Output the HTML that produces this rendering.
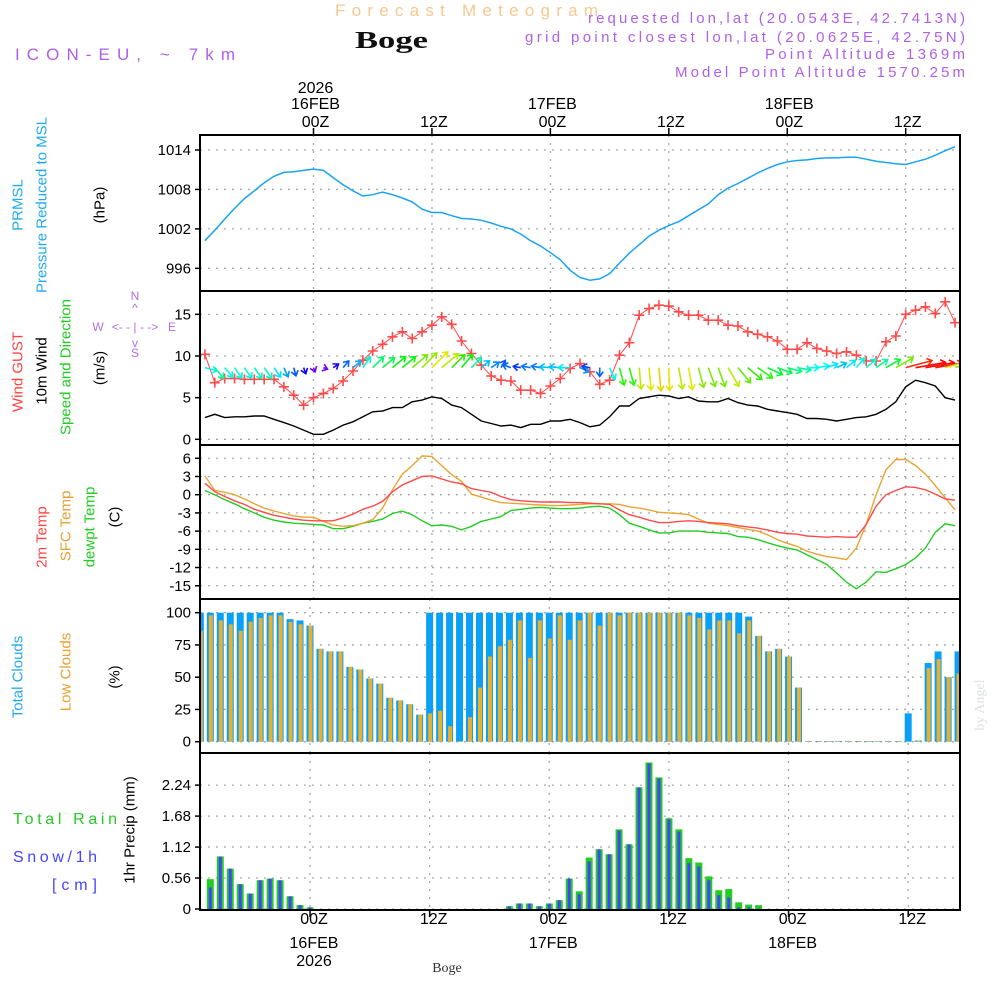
<!DOCTYPE html>
<html><head><meta charset="utf-8"><title>Forecast Meteogram - Boge</title>
<style>
html,body{margin:0;padding:0;background:#fff;}
svg{display:block;font-family:"Liberation Sans",sans-serif;}
</style></head>
<body>
<svg id="chart" width="1000" height="1000" viewBox="0 0 1000 1000" xmlns="http://www.w3.org/2000/svg">
<rect x="0" y="0" width="1000" height="1000" fill="#fff"/>
<!-- header -->
<text x="335" y="16" font-size="17" fill="#f7c890" textLength="263" lengthAdjust="spacing">Forecast Meteogram</text>
<text x="355" y="48" font-size="24" font-weight="bold" font-family="Liberation Serif, serif" fill="#111" textLength="73" lengthAdjust="spacingAndGlyphs">Boge</text>
<text x="15" y="60" font-size="17" fill="#b060e8" textLength="220" lengthAdjust="spacing">ICON-EU, ~ 7km</text>
<text x="588" y="23" font-size="15" fill="#b060e8" textLength="377" lengthAdjust="spacing">requested lon,lat (20.0543E, 42.7413N)</text>
<text x="525" y="42" font-size="15" fill="#b060e8" textLength="440" lengthAdjust="spacing">grid point closest lon,lat (20.0625E, 42.75N)</text>
<text x="765" y="59" font-size="15" fill="#b060e8" textLength="200" lengthAdjust="spacing">Point Altitude 1369m</text>
<text x="675" y="77" font-size="15" fill="#b060e8" textLength="290" lengthAdjust="spacing">Model Point Altitude 1570.25m</text>

<!-- left titles -->
<g font-size="15" text-anchor="middle" dominant-baseline="central">
<text transform="translate(18,205) rotate(-90)" fill="#22aaee">PRMSL</text>
<text transform="translate(42,205) rotate(-90)" fill="#22aaee">Pressure Reduced to MSL</text>
<text transform="translate(100,205) rotate(-90)" fill="#000">(hPa)</text>
<text transform="translate(18,372) rotate(-90)" fill="#ff4444">Wind GUST</text>
<text transform="translate(42,371) rotate(-90)" fill="#000">10m Wind</text>
<text transform="translate(66,367) rotate(-90)" fill="#22cc22">Speed and Direction</text>
<text transform="translate(100,368) rotate(-90)" fill="#000">(m/s)</text>
<text transform="translate(42,537) rotate(-90)" fill="#ff4444">2m Temp</text>
<text transform="translate(66,526) rotate(-90)" fill="#e8a030">SFC Temp</text>
<text transform="translate(90,527) rotate(-90)" fill="#22cc22">dewpt Temp</text>
<text transform="translate(115,517) rotate(-90)" fill="#000">(C)</text>
<text transform="translate(18,677) rotate(-90)" fill="#22aaee">Total Clouds</text>
<text transform="translate(66,672) rotate(-90)" fill="#e8a030">Low Clouds</text>
<text transform="translate(115,677) rotate(-90)" fill="#000">(%)</text>
<text transform="translate(130,830) rotate(-90)" fill="#000">1hr Precip (mm)</text>
</g>
<text x="13" y="824" font-size="16" fill="#22cc22" textLength="104" lengthAdjust="spacing">Total  Rain</text>
<text x="13" y="862" font-size="16" fill="#4444ff" textLength="84" lengthAdjust="spacing">Snow/1h</text>
<text x="52" y="890" font-size="16" fill="#4444ff" textLength="45" lengthAdjust="spacing">[cm]</text>

<!-- compass -->
<g font-size="12" fill="#b070e8" text-anchor="middle">
<text x="135" y="300">N</text>
<text x="135" y="312">^</text>
<text x="135" y="331">&lt;- - | - -&gt;</text>
<text x="98" y="331">W</text>
<text x="172" y="331">E</text>
<text x="135" y="347">v</text>
<text x="135" y="357">S</text>
</g>

<text transform="translate(984,705) rotate(-90)" font-size="14" font-family="Liberation Serif, serif" fill="#dde3dd" text-anchor="middle">by Angel</text>
<text x="447" y="972" font-size="14" font-family="Liberation Serif, serif" fill="#333" text-anchor="middle">Boge</text>

<g id="grid"></g>
<g id="marks"></g>
<g id="frames"></g>
<g id="labels" font-size="15" fill="#000"></g>
</svg>
<script>
// ===== data (hourly, h = -11 .. 65 relative to 16FEB 00Z) =====
const startHour = -11;
const pressure = [1000.2,1001.8,1003.5,1005.1,1006.6,1007.8,1009.0,1010.0,1010.6,1010.7,1010.9,
1011.1,1010.9,1009.8,1008.7,1007.8,1007.0,1007.2,1007.6,1007.2,1006.7,1006.1,1005.0,
1004.5,1004.5,1004.0,1003.6,1003.5,1003.3,1002.9,1002.4,1002.0,1001.2,1000.2,999.4,
998.4,997.3,995.7,994.6,994.2,994.4,995.2,996.8,998.3,999.6,1000.9,1001.8,
1002.5,1003.1,1004.0,1004.9,1005.8,1007.2,1008.2,1008.9,1009.7,1010.5,1011.2,1011.8,
1012.2,1012.4,1012.5,1012.7,1012.8,1012.8,1012.9,1012.9,1012.6,1012.3,1012.1,1011.9,
1011.8,1012.2,1012.6,1013.2,1013.9,1014.5];
const gust = [10.2,6.8,7.3,7.3,7.2,7.2,7.2,7.2,6.3,5.3,4.1,
5.0,5.5,6.1,7.0,8.2,9.5,10.6,11.4,12.3,12.9,12.1,12.9,
13.7,14.7,13.8,11.8,10.3,8.9,7.6,7.1,7.0,5.9,5.9,5.5,
6.4,7.3,8.5,9.1,8.1,6.6,7.1,10.1,11.6,14.9,15.7,16.1,
16.0,15.3,14.9,14.9,14.3,14.3,13.7,13.6,12.9,12.6,12.3,11.8,
10.8,10.8,11.6,10.9,10.6,10.3,10.5,10.1,9.4,9.4,11.7,12.4,
15.0,15.5,15.9,15.1,16.5,14.0];
const wind10 = [2.6,3.0,2.6,2.7,2.7,2.8,2.8,2.4,2.0,1.6,1.1,
0.6,0.6,1.1,1.7,2.1,2.7,3.3,3.4,3.8,3.8,4.5,4.7,
5.1,4.9,4.1,3.8,3.0,2.2,1.9,1.6,1.7,1.4,1.8,1.8,
2.2,2.2,2.4,2.0,1.5,1.7,2.7,4.0,4.0,4.9,5.1,5.3,
5.2,4.9,5.1,4.6,4.5,4.5,4.9,4.4,4.1,4.0,3.6,3.4,
3.2,3.0,2.5,2.5,2.4,2.2,2.4,2.6,2.7,3.0,3.6,4.5,
6.3,7.1,6.8,6.4,5.0,4.7];
const windToDir = [105,140,140,145,145,145,145,145,155,165,160,
160,110,55,40,50,35,45,50,50,50,50,45,
45,50,45,40,45,50,55,30,290,280,280,280,
275,275,270,115,280,180,155,165,165,175,175,175,
178,170,170,165,160,160,150,140,130,125,115,110,
105,100,90,80,70,65,50,40,50,55,60,60,
75,80,80,80,75,70];
const t2m = [1.9,0.5,-0.3,-1.0,-1.6,-2.4,-2.9,-3.4,-3.7,-4.0,-4.2,
-4.3,-4.3,-4.3,-3.8,-3.2,-2.4,-1.9,-1.1,0.5,1.6,2.3,3.0,
3.1,2.6,2.1,1.8,1.0,0.7,0.4,-0.3,-0.8,-1.0,-1.1,-1.2,
-1.2,-1.2,-1.3,-1.3,-1.4,-1.5,-1.6,-2.5,-3.3,-3.7,-4.2,-4.6,
-4.6,-4.4,-4.3,-4.4,-4.6,-4.7,-4.8,-5.1,-5.3,-5.5,-5.8,-6.2,
-6.4,-6.5,-6.8,-6.9,-7.0,-6.9,-7.0,-7.0,-4.9,-1.9,0.0,0.7,
1.3,1.2,0.8,0.1,-0.7,-0.9];
const tsfc = [3.1,0.7,0.4,0.0,-0.7,-1.5,-2.2,-2.7,-3.1,-3.5,-3.7,
-3.7,-4.4,-5.0,-5.2,-5.1,-4.7,-4.1,-2.2,0.8,3.4,4.8,6.4,
6.3,4.8,3.3,2.2,0.1,-0.4,-0.9,-1.3,-1.4,-1.5,-1.6,-1.7,
-1.8,-1.8,-1.7,-1.6,-1.5,-1.5,-1.5,-1.6,-2.0,-2.2,-2.5,-2.9,
-3.0,-3.1,-3.3,-4.0,-4.7,-4.9,-5.1,-5.4,-5.7,-6.0,-6.6,-7.4,
-8.0,-8.5,-9.3,-9.8,-10.2,-10.4,-10.7,-8.8,-4.9,0.0,4.1,5.8,
5.8,4.8,3.4,1.5,-0.5,-2.5];
const tdew = [0.7,0.0,-0.8,-1.5,-2.3,-3.0,-3.7,-4.2,-4.5,-4.7,-4.8,
-4.9,-5.0,-5.6,-5.6,-5.2,-4.7,-4.4,-4.0,-3.1,-2.7,-3.3,-4.3,
-5.1,-5.0,-5.2,-5.8,-5.2,-4.4,-4.0,-3.6,-2.6,-2.4,-2.2,-2.1,
-2.2,-2.3,-2.3,-2.2,-2.0,-1.9,-2.2,-3.3,-4.7,-5.2,-5.8,-6.3,
-6.3,-6.0,-6.0,-6.0,-6.2,-6.3,-6.4,-6.9,-7.0,-7.4,-7.9,-8.4,
-8.8,-9.1,-9.9,-10.7,-11.5,-12.9,-14.4,-15.5,-14.4,-12.7,-12.8,-12.2,
-11.5,-10.4,-8.8,-6.2,-4.8,-5.1];
const totalCloud = [100,100,100,100,100,100,100,100,100,95,94,
90,72,70,70,58,56,49,45,34,32,29,21,
100,100,100,100,100,100,100,100,100,100,100,100,
100,100,100,100,100,100,100,100,100,100,100,100,
100,100,100,100,100,100,100,100,97,82,70,72,
66,42,0.5,0.5,0.5,0.5,0.5,0.5,0.5,0.5,0.5,0.5,
22,1,61,70,50,70];
const lowCloud = [86,98,94,91,86,93,96,98,98,93,91,
90,72,70,70,58,56,49,45,34,32,29,21,
22,24,12,0.5,19,42,66,74,79,94,65,94,
80,98,79,94,100,90,100,98,100,100,100,100,
100,100,98,96,87,94,94,84,94,82,70,72,
66,42,0.5,0.5,0.5,0.5,0.5,0.5,0.5,0.5,0.5,0.5,
0,1,57,64,50,53];
const rainTotal = [0,0.54,0.95,0.73,0.45,0.28,0.52,0.55,0.52,0.23,0.07,
0.03,0,0,0,0,0,0,0,0,0,0,0,
0,0,0,0,0,0,0,0,0.05,0.1,0.1,0.05,
0.1,0.16,0.55,0.32,0.93,1.08,0.99,1.44,1.17,2.2,2.65,2.38,
1.64,1.44,0.92,0.84,0.59,0.34,0.36,0.12,0.08,0.07,0,0,
0,0,0,0,0,0,0,0,0,0,0,0,
0,0,0,0,0,0];
const snow1h = [0,0.39,0.95,0.73,0.45,0.28,0.52,0.55,0.52,0.23,0.07,
0.03,0,0,0,0,0,0,0,0,0,0,0,
0,0,0,0,0,0,0,0,0.05,0.1,0.1,0.05,
0.1,0.16,0.55,0.27,0.86,1.08,0.99,1.42,1.17,2.2,2.63,2.36,
1.62,1.40,0.83,0.77,0.52,0.25,0.21,0.03,0.03,0.01,0,0,
0,0,0,0,0,0,0,0,0,0,0,0,
0,0,0,0,0,0];
const pressureTicks = [1014,1008,1002,996];
const windTicks = [15,10,5,0];
const tempTicks = [6,3,0,-3,-6,-9,-12,-15];
const cloudTicks = [100,75,50,25,0];
const precipTicks = [2.24,1.68,1.12,0.56,0];
const timeGridHours = [0,12,24,36,48,60];
const topTimeLabels = [["2026","16FEB","00Z"],["","","12Z"],["","17FEB","00Z"],["","","12Z"],["","18FEB","00Z"],["","","12Z"]];
const bottomTimeLabels = [["00Z","16FEB","2026"],["12Z","",""],["00Z","17FEB",""],["12Z","",""],["00Z","18FEB",""],["12Z","",""]];

// ===== axes =====
const X0 = 200, X1 = 960;
const xu = h => 313.5 + 9.87*h;      // upper panels
const xl = h => 310 + 9.97*h;        // lower panels (bars)
const yP = p => 150 + (1014-p)*6.574;
const yW = v => 439.3 - v*8.33;
const yT = t => 494.7 - t*6.07;
const yC = c => 741.7 - c*1.29;
const yR = r => 909 - r*55.3;
const panels = [[135,291],[291,445],[445,599],[599,753],[753,910]];

const NS = "http://www.w3.org/2000/svg";
const svg = document.getElementById('chart');
const gGrid = document.getElementById('grid');
const gMarks = document.getElementById('marks');
const gFrames = document.getElementById('frames');
const gLabels = document.getElementById('labels');
function mk(tag, attrs, parent){ const e=document.createElementNS(NS,tag); for(const k in attrs) e.setAttribute(k,attrs[k]); parent.appendChild(e); return e; }

const defs = mk('defs',{},svg);
panels.forEach((p,i)=>{ const c=mk('clipPath',{id:'clip'+i},defs); mk('rect',{x:X0,y:p[0],width:X1-X0,height:p[1]-p[0]},c); });

function hGrid(ticks, yf, pi, name, fmt){
  ticks.forEach(t=>{
    const y=yf(t);
    const gl=mk('line',{x1:X0,y1:y,x2:X1,y2:y,stroke:'#a8a8a8','stroke-width':1.3,'stroke-dasharray':'2,6'},gGrid);
    
    
    const tk=mk('line',{x1:X0-5,y1:y,x2:X0,y2:y,stroke:'#000','stroke-width':1.5},gFrames);
    
    
    const tx=mk('text',{x:X0-9,y:y+5,'text-anchor':'end'},gLabels);
    tx.textContent = fmt ? fmt(t) : String(t);
    
    
  });
}
hGrid(pressureTicks,yP,0,'pressure-y');
hGrid(windTicks,yW,1,'wind-y');
hGrid(tempTicks,yT,2,'temp-y');
hGrid(cloudTicks,yC,3,'cloud-y');
hGrid(precipTicks,yR,4,'precip-y',v=>v===0?'0':v.toFixed(2));
panels.forEach((p,i)=>{
  timeGridHours.forEach(h=>{
    const x = i<3 ? xu(h) : xl(h);
    const vl=mk('line',{x1:x,y1:p[0],x2:x,y2:p[1],stroke:'#a8a8a8','stroke-width':1.3,'stroke-dasharray':'2,6'},gGrid);
    
    
  });
});
timeGridHours.forEach((h,i)=>{
  const xt=xu(h), xb=xl(h);
  const t1=mk('line',{x1:xt,y1:128,x2:xt,y2:135,stroke:'#000','stroke-width':1.5},gFrames);
  
  
  const t2=mk('line',{x1:xb,y1:910,x2:xb,y2:917,stroke:'#000','stroke-width':1.5},gFrames);
  
  
  const ys=[93,109,127];
  topTimeLabels[i].forEach((s,k)=>{ if(!s) return;
    const t=mk('text',{x:xt+2,y:ys[k],'text-anchor':'middle','font-size':16},gLabels);
    t.textContent=s;
    
    
  });
  const yb=[924,948,966];
  bottomTimeLabels[i].forEach((s,k)=>{ if(!s) return;
    const t=mk('text',{x:xb+4,y:yb[k],'text-anchor':'middle','font-size':16},gLabels);
    t.textContent=s;
    
    
  });
});

const hourOf = i => startHour + i;
function polyline(vals, yf, color, pi, name, width){
  const pts = vals.map((v,i)=>xu(hourOf(i)).toFixed(1)+','+yf(v).toFixed(1)).join(' ');
  const pl=mk('polyline',{points:pts,fill:'none',stroke:color,'stroke-width':width||1.4,'clip-path':'url(#clip'+pi+')'},gMarks);
  
  
  return pl;
}

polyline(pressure, yP, '#1aa3f5', 0, 'pressure-line', 1.5);
polyline(wind10, yW, '#000', 1, 'wind10m-line', 1.4);
polyline(gust, yW, '#ff4a4a', 1, 'gust-line', 1);
gust.forEach((v,i)=>{
  const x=xu(hourOf(i)), y=yW(v);
  const m=mk('path',{d:`M${x-5},${y}H${x+5}M${x},${y-5}V${y+5}`,stroke:'#ff4a4a','stroke-width':1.6,fill:'none','clip-path':'url(#clip1)'},gMarks);
  
  
});
windToDir.forEach((b,i)=>{
  const ws=wind10[i];
  const x=xu(hourOf(i)), y=yW(8.6);
  const L=4*ws+2, r=b*Math.PI/180;
  const ex=x+Math.sin(r)*L, ey=y-Math.cos(r)*L;
  const a1=r+Math.PI*0.8, a2=r-Math.PI*0.8, hl=6;
  const hue=Math.max(0,Math.min(275, 270-(ws-0.5)*45));
  const col=`hsl(${hue},95%,${hue>40&&hue<110?47:50}%)`;
  const d=`M${x},${y}L${ex},${ey}M${ex+Math.sin(a1)*hl},${ey-Math.cos(a1)*hl}L${ex},${ey}L${ex+Math.sin(a2)*hl},${ey-Math.cos(a2)*hl}`;
  const a=mk('path',{d:d,stroke:col,'stroke-width':1.6,fill:'none','clip-path':'url(#clip1)'},gMarks);
  
  
});

polyline(tdew, yT, '#22cc22', 2, 'dewpoint-line', 1.4);
polyline(tsfc, yT, '#e8a530', 2, 'sfc-temp-line', 1.4);
polyline(t2m, yT, '#ff4a4a', 2, 't2m-line', 1.4);

totalCloud.forEach((v,i)=>{
  const x=xl(hourOf(i)), y=yC(v);
  const r=mk('rect',{x:x-3.5,y:y,width:7,height:yC(0)-y,fill:'#0aa0f5','clip-path':'url(#clip3)'},gMarks);
  
  
});
lowCloud.forEach((v,i)=>{
  const x=xl(hourOf(i)), y=yC(v);
  const r=mk('rect',{x:x-1.5,y:y,width:4,height:yC(0)-y,fill:'#e8b030','clip-path':'url(#clip3)'},gMarks);
  
  
});

rainTotal.forEach((v,i)=>{
  if(v<=0) return;
  const x=xl(hourOf(i)), y=yR(v);
  const r=mk('rect',{x:x-3.5,y:y,width:7,height:yR(0)-y,fill:'#22cc22','clip-path':'url(#clip4)'},gMarks);
  
  
});
snow1h.forEach((v,i)=>{
  if(v<=0) return;
  const x=xl(hourOf(i)), y=yR(v);
  const r=mk('rect',{x:x-1.5,y:y,width:3,height:yR(0)-y,fill:'#4444ff','clip-path':'url(#clip4)'},gMarks);
  
  
});

const frameNames=['pressure-panel','wind-panel','temperature-panel','cloud-panel','precip-panel'];
panels.forEach((p,i)=>{
  const f=mk('rect',{x:X0,y:p[0],width:X1-X0,height:p[1]-p[0],fill:'none',stroke:'#000','stroke-width':2},gFrames);
  
  
});
</script>
</body></html>
